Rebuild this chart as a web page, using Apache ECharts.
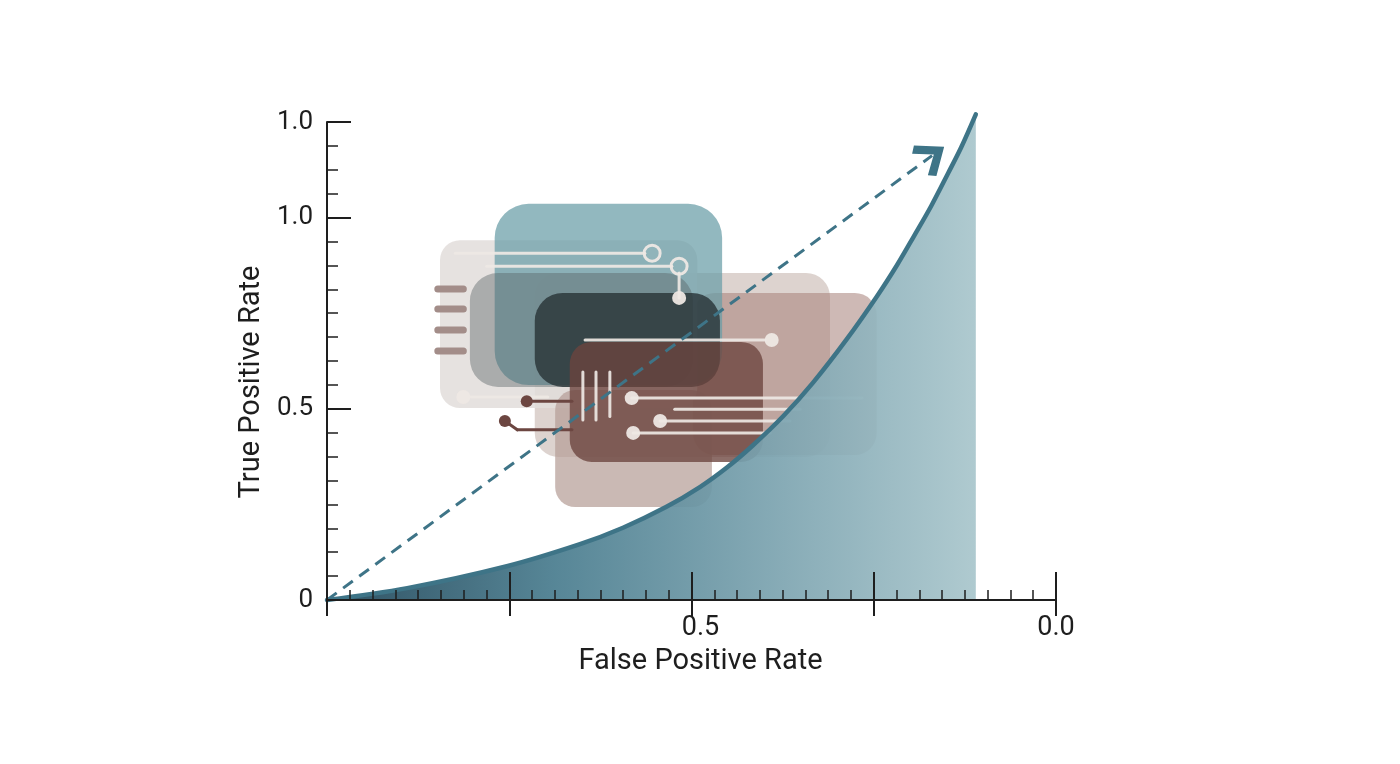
<!DOCTYPE html>
<html>
<head>
<meta charset="utf-8">
<script src="https://cdn.jsdelivr.net/npm/echarts@6/dist/echarts.min.js"></script>
<style>
  html, body { margin: 0; padding: 0; background: #ffffff; }
  #chart { width: 1400px; height: 764px; }
</style>
</head>
<body>
<div id="chart"></div>
<script>
// ROC curve (x axis runs from 1.0 on the left to 0.0 on the right)
const rocFpr = [1.0, 0.890, 0.752, 0.653, 0.594, 0.535, 0.488, 0.451, 0.416, 0.374, 0.333, 0.287, 0.246, 0.218, 0.195, 0.171, 0.148, 0.130, 0.110];
const rocTpr = [0, 0.031, 0.089, 0.146, 0.189, 0.243, 0.296, 0.347, 0.404, 0.481, 0.569, 0.682, 0.793, 0.876, 0.951, 1.031, 1.116, 1.184, 1.270];

// dashed guide with the arrow head
const guideFpr = [1.0, 0.170];
const guideTpr = [0, 1.162];

// ticks and tick labels
const xTickValues = [0, 0.25, 0.5, 0.75, 1];
const xLabelValues = [0.5, 0];
const xLabelTexts = ['0.5', '0.0'];
const yTickValues = [0, 0.5, 1.0, 1.25];
const yTickTexts = ['0', '0.5', '1.0', '1.0'];

// decorative cards behind the curve, [fprA, tprA, fprB, tprB]
const decorCards = [
  [0.715, 0.374, 0.310, 0.855],
  [0.498, 0.379, 0.246, 0.803],
  [0.845, 0.502, 0.492, 0.941],
  [0.770, 0.562, 0.458, 1.036],
  [0.804, 0.557, 0.498, 0.855],
  [0.715, 0.557, 0.461, 0.803],
  [0.687, 0.243, 0.472, 0.549],
  [0.667, 0.361, 0.402, 0.675]
];
const cardFills = [
  'rgba(200,184,178,0.62)',
  'rgba(165,128,120,0.55)',
  'rgba(226,221,218,0.85)',
  'rgba(104,156,166,0.72)',
  'rgba(88,98,101,0.42)',
  'rgba(42,52,56,0.82)',
  'rgba(182,158,151,0.72)',
  'rgba(108,68,61,0.78)'
];
const cardRadius = [24, 22, 20, 34, 28, 28, 20, 22];

// circuit traces on the cards, [fprA, tprA, fprB, tprB]
const lightLines = [
  [0.824, 0.907, 0.564, 0.907],
  [0.781, 0.873, 0.527, 0.873],
  [0.517, 0.855, 0.517, 0.790],
  [0.646, 0.680, 0.399, 0.680],
  [0.813, 0.531, 0.697, 0.531],
  [0.582, 0.528, 0.266, 0.528],
  [0.523, 0.499, 0.351, 0.499],
  [0.543, 0.468, 0.365, 0.468],
  [0.580, 0.437, 0.392, 0.437],
  [0.649, 0.596, 0.649, 0.471],
  [0.631, 0.596, 0.631, 0.471],
  [0.612, 0.596, 0.612, 0.480]
];
const lightDots = [[0.517, 0.790], [0.390, 0.680], [0.813, 0.531], [0.582, 0.528], [0.543, 0.468], [0.580, 0.437]];
const lightRings = [[0.554, 0.907], [0.517, 0.873]];
const mauveBars = [
  [0.848, 0.813, 0.813, 0.813],
  [0.848, 0.761, 0.813, 0.761],
  [0.848, 0.706, 0.813, 0.706],
  [0.848, 0.651, 0.813, 0.651]
];
const brownLines = [
  [0.756, 0.468, 0.739, 0.445],
  [0.739, 0.445, 0.664, 0.445],
  [0.726, 0.520, 0.664, 0.520]
];
const brownDots = [[0.756, 0.468], [0.726, 0.520]];

const ink = '#1e1e1e';
const teal = '#3e7487';
const font = 'Roboto, "Noto Sans", sans-serif';
const plot = { left: 327, right: 344, top: 122, bottom: 164 };

function rectItem(params, api) {
  const a = api.coord([api.value(0), api.value(1)]);
  const b = api.coord([api.value(2), api.value(3)]);
  return {
    type: 'rect',
    shape: {
      x: Math.min(a[0], b[0]), y: Math.min(a[1], b[1]),
      width: Math.abs(b[0] - a[0]), height: Math.abs(b[1] - a[1]),
      r: cardRadius[params.dataIndex]
    },
    style: { fill: cardFills[params.dataIndex] }
  };
}

function segmentItem(color, width) {
  return function (params, api) {
    const a = api.coord([api.value(0), api.value(1)]);
    const b = api.coord([api.value(2), api.value(3)]);
    return {
      type: 'line',
      shape: { x1: a[0], y1: a[1], x2: b[0], y2: b[1] },
      style: { stroke: color, lineWidth: width, lineCap: 'round' }
    };
  };
}

function dotItem(fill, stroke, r) {
  return function (params, api) {
    const p = api.coord([api.value(0), api.value(1)]);
    return {
      type: 'circle',
      shape: { cx: p[0], cy: p[1], r: r },
      style: { fill: fill, stroke: stroke, lineWidth: stroke ? 3 : 0 }
    };
  };
}

function decor(data, renderItem, z) {
  return { type: 'custom', data: data, renderItem: renderItem, silent: true, z: z };
}

const chart = echarts.init(document.getElementById('chart'));

const option = {
  backgroundColor: '#ffffff',
  animation: false,
  // grid 1 sits on top of grid 0 and only carries the extra tick marks
  grid: [Object.assign({}, plot), Object.assign({}, plot)],
  xAxis: [
    {
      gridIndex: 0, z: 10,
      type: 'value', min: 0, max: 1, interval: 0.25, inverse: true,
      name: 'False Positive Rate', nameLocation: 'middle', nameGap: 43,
      nameTextStyle: { color: ink, fontSize: 29, fontFamily: font, padding: [0, 0, 0, 18] },
      axisLine: { show: true, onZero: false, lineStyle: { color: ink, width: 2 } },
      axisTick: { show: true, inside: true, length: 28, customValues: xTickValues, lineStyle: { color: ink, width: 2 } },
      minorTick: { show: true, splitNumber: 8, length: 10, lineStyle: { color: ink, width: 1.5 } },
      axisLabel: {
        color: ink, fontSize: 27, fontFamily: font, margin: 15,
        customValues: xLabelValues,
        formatter: v => {
          const i = xLabelValues.findIndex(t => Math.abs(t - v) < 1e-6);
          if (i < 0) return '';
          return v === 0 ? xLabelTexts[i] : '{mid|' + xLabelTexts[i] + '}';
        },
        rich: { mid: { fontSize: 27, fontFamily: font, color: ink, padding: [0, 0, 0, 18] } }
      },
      splitLine: { show: false }
    },
    {
      gridIndex: 1, z: 10,
      type: 'value', min: 0, max: 1, interval: 0.25, inverse: true,
      axisLine: { show: false, onZero: false },
      axisTick: { show: true, inside: false, length: 16, customValues: xTickValues, lineStyle: { color: ink, width: 2 } },
      axisLabel: { show: false },
      splitLine: { show: false }
    }
  ],
  yAxis: [
    {
      gridIndex: 0, z: 10,
      type: 'value', min: 0, max: 1.25, interval: 0.25,
      name: 'True Positive Rate', nameLocation: 'middle', nameGap: 45,
      nameTextStyle: { color: ink, fontSize: 29, fontFamily: font, padding: [0, 42, 0, 0] },
      axisLine: { show: true, onZero: false, lineStyle: { color: ink, width: 2 } },
      axisTick: { show: true, inside: true, length: 24, customValues: yTickValues, lineStyle: { color: ink, width: 2 } },
      axisLabel: {
        color: ink, fontSize: 26, fontFamily: font, margin: 14,
        customValues: yTickValues,
        formatter: v => {
          const i = yTickValues.findIndex(t => Math.abs(t - v) < 1e-6);
          return i >= 0 ? yTickTexts[i] : '';
        }
      },
      splitLine: { show: false }
    },
    {
      gridIndex: 1, z: 10,
      type: 'value', min: 0, max: 1.25, interval: 0.0625,
      axisLine: { show: false, onZero: false },
      axisTick: { show: true, inside: true, length: 11, lineStyle: { color: ink, width: 1.5 } },
      axisLabel: { show: false },
      splitLine: { show: false }
    }
  ],
  series: [
    decor(decorCards, rectItem, 1),
    decor(lightLines, segmentItem('rgba(238,232,228,0.92)', 3), 2),
    decor(mauveBars, segmentItem('#a38d89', 7), 2),
    decor(brownLines, segmentItem('#6c4641', 3), 2),
    decor(lightRings, dotItem('rgba(255,255,255,0.05)', 'rgba(238,232,228,0.95)', 8), 2),
    decor(lightDots, dotItem('rgba(238,232,228,0.95)', null, 7), 2),
    decor(brownDots, dotItem('#6c4641', null, 6), 2),
    {
      type: 'line',
      name: 'ROC',
      data: rocFpr.map((x, i) => [x, rocTpr[i]]),
      smooth: 0.35,
      showSymbol: false,
      clip: false,
      z: 5,
      lineStyle: { color: teal, width: 4.5, cap: 'round' },
      areaStyle: {
        opacity: 0.93,
        color: new echarts.graphic.LinearGradient(0, 0, 1, 0, [
          { offset: 0, color: '#1f4457' },
          { offset: 0.35, color: '#4a7d8f' },
          { offset: 0.7, color: '#7ea5b1' },
          { offset: 1, color: '#a9c6cc' }
        ])
      }
    },
    {
      type: 'line',
      name: 'guide',
      data: [],
      z: 6,
      markLine: {
        silent: true,
        animation: false,
        symbol: ['none', 'path://M0,22 L20,0 L40,22 L34,28 L20,12 L6,28 Z'],
        symbolSize: [38, 30],
        label: { show: false },
        lineStyle: { color: teal, width: 3, type: [12, 8] },
        data: [[
          { coord: [guideFpr[0], guideTpr[0]] },
          { coord: [guideFpr[1], guideTpr[1]] }
        ]]
      }
    }
  ]
};

chart.setOption(option);
</script>
</body>
</html>
